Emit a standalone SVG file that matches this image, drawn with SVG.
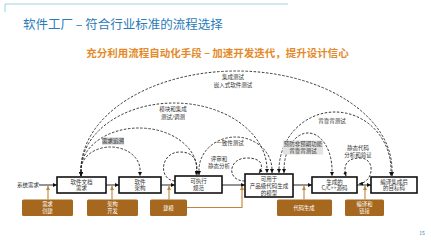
<svg xmlns="http://www.w3.org/2000/svg" width="431" height="240" viewBox="0 0 431 240">
<defs>
<style>
text{font-family:"Noto Sans CJK SC","Noto Sans",sans-serif}
.lbl{font-size:5.5px;fill:#333;text-anchor:middle}
.box{fill:#fff;stroke:#111;stroke-width:1.6}
.obox{fill:#a5681e}
.otx{font-size:5.3px;fill:#fff;text-anchor:middle}
.arc{fill:none;stroke:#222;stroke-width:0.9;stroke-dasharray:2.5 1.6;marker-start:url(#ah);marker-end:url(#ah)}
.loop{fill:none;stroke:#222;stroke-width:0.9;stroke-dasharray:2.5 1.6;marker-end:url(#ah)}
.ln{fill:none;stroke:#111;stroke-width:0.9;marker-end:url(#ah)}
.oln{fill:none;stroke:#c0843a;stroke-width:1.1;marker-end:url(#oah)}
</style>
<marker id="ah" viewBox="0 0 6 6" refX="6" refY="3" markerWidth="4" markerHeight="4" markerUnits="userSpaceOnUse" orient="auto-start-reverse"><path d="M0,0L6,3L0,6z" fill="#111"/></marker>
<marker id="oah" viewBox="0 0 6 6" refX="6" refY="3" markerWidth="4" markerHeight="4" markerUnits="userSpaceOnUse" orient="auto-start-reverse"><path d="M0,0L6,3L0,6z" fill="#c0843a"/></marker>
</defs>
<rect width="431" height="240" fill="#fff"/>
<path d="M5,12V4H288" fill="none" stroke="#9fd0e8" stroke-width="1"/>
<text x="23" y="29" font-size="12.5" fill="#2b7bb9">软件工厂 – 符合行业标准的流程选择</text>
<text x="217.5" y="57" font-size="10.5" font-weight="bold" fill="#e38b2c" text-anchor="middle">充分利用流程自动化手段 – 加速开发迭代，提升设计信心</text>

<g id="connectors">
<path class="arc" d="M81,176V170A29.5 23 0 0 1 140,170V176"/>
<path class="arc" d="M81,176V170A58 42 0 0 1 197,170V175"/>
<path class="arc" d="M81,176V170A93 67 0 0 1 267,170V173"/>
<path class="arc" d="M81,176V170A155.5 99 0 0 1 392,170V176"/>
<path class="arc" d="M199,175V170A36.5 33 0 0 1 272,170V173"/>
<path class="arc" d="M279,173V170A56 58 0 0 1 391,170V176"/>
<path class="arc" d="M284,173V170A24 37 0 0 1 332,170V176"/>
<path class="loop" d="M175,181C158,180 160,152 180,152C196,152 198,164 196,175"/>
<path class="loop" d="M245,181C226,181 228,158 247,158C262,158 264,166 259,173"/>
<path class="arc" d="M359,184C374,182 376,158 360,158C346,158 343,166 346,176"/>
<path class="ln" d="M39,185H57"/>
<path class="ln" d="M106,185H119"/>
<path class="ln" d="M161,185H175"/>
<path class="ln" d="M222,185H245"/>
<path class="ln" d="M293,185H312"/>
<path class="ln" d="M357,185H371"/>
<path class="oln" d="M48,199.5V186"/>
<path class="oln" d="M112,199.5V186"/>
<path class="oln" d="M169,199.5V186"/>
<path class="oln" d="M187,207.5H242V186"/>
<path class="oln" d="M304,199.5V186"/>
<path class="oln" d="M365,199.5V186"/>
</g>

<g id="labels">
<text class="lbl" x="233" y="79">集成测试</text>
<text class="lbl" x="233" y="87">嵌入式软件测试</text>
<text class="lbl" x="173" y="111">模块和集成</text>
<text class="lbl" x="173" y="119">测试/调测</text>
<rect x="102" y="137.5" width="22" height="7" fill="#c8c8c8"/>
<text class="lbl" x="113" y="143" fill="#222">需求追溯</text>
<text class="lbl" x="230" y="145">一致性测试</text>
<text class="lbl" x="219" y="161">评审和</text>
<text class="lbl" x="219" y="168">静态分析</text>
<text class="lbl" x="332" y="123">背靠背测试</text>
<rect x="283" y="140.5" width="40" height="14" fill="#e2e2e2"/>
<text class="lbl" x="303" y="146">预防非预期功能</text>
<text class="lbl" x="303" y="153">背靠背测试</text>
<text class="lbl" x="358" y="150">静态代码</text>
<text class="lbl" x="358" y="157">分析和验证</text>
<text class="lbl" x="28" y="187">系统需求</text>
</g>

<g id="n1"><rect class="box" x="57" y="177" width="49" height="16"/><text class="lbl" x="81.5" y="183.8">软件文档</text><text class="lbl" x="81.5" y="190.4">需求</text></g>
<g id="n2"><rect class="box" x="119" y="177" width="42" height="16"/><text class="lbl" x="140" y="183.8">软件</text><text class="lbl" x="140" y="190.4">架构</text></g>
<g id="n3"><rect class="box" x="175" y="176" width="47" height="17"/><text class="lbl" x="198.5" y="183.3">可执行</text><text class="lbl" x="198.5" y="190">规范</text></g>
<g id="n4"><rect class="box" x="245" y="174" width="48" height="23"/><text class="lbl" x="269" y="180.6">可用于</text><text class="lbl" x="269" y="187.6">产品级代码生成</text><text class="lbl" x="269" y="194.6">的模型</text></g>
<g id="n5"><rect class="box" x="312" y="177" width="45" height="16"/><text class="lbl" x="334.5" y="183.8">生成的</text><text class="lbl" x="334.5" y="190.4">C/C++源码</text></g>
<g id="n6"><rect class="box" x="371" y="177" width="46" height="16"/><text class="lbl" x="394" y="183.8">编译集成后</text><text class="lbl" x="394" y="190.4">的目标码</text></g>

<g id="o1"><rect class="obox" x="22" y="199.5" width="51" height="16.5" rx="1.5"/><text class="otx" x="47.5" y="205.9">需求</text><text class="otx" x="47.5" y="212.9">创建</text></g>
<g id="o2"><rect class="obox" x="87" y="199.5" width="51" height="16.5" rx="1.5"/><text class="otx" x="112.5" y="205.9">架构</text><text class="otx" x="112.5" y="212.9">开发</text></g>
<g id="o3"><rect class="obox" x="150" y="199.5" width="37" height="16.5" rx="1.5"/><text class="otx" x="168.5" y="209.7">建模</text></g>
<g id="o4"><rect class="obox" x="277" y="199.5" width="55" height="16.5" rx="1.5"/><text class="otx" x="304" y="209.7">代码生成</text></g>
<g id="o5"><rect class="obox" x="345" y="199.5" width="39" height="16.5" rx="1.5"/><text class="otx" x="364.5" y="205.9">编译和</text><text class="otx" x="364.5" y="212.9">链接</text></g>

<text x="422" y="235" font-size="5" fill="#2b7bb9" text-anchor="middle">15</text>
</svg>
